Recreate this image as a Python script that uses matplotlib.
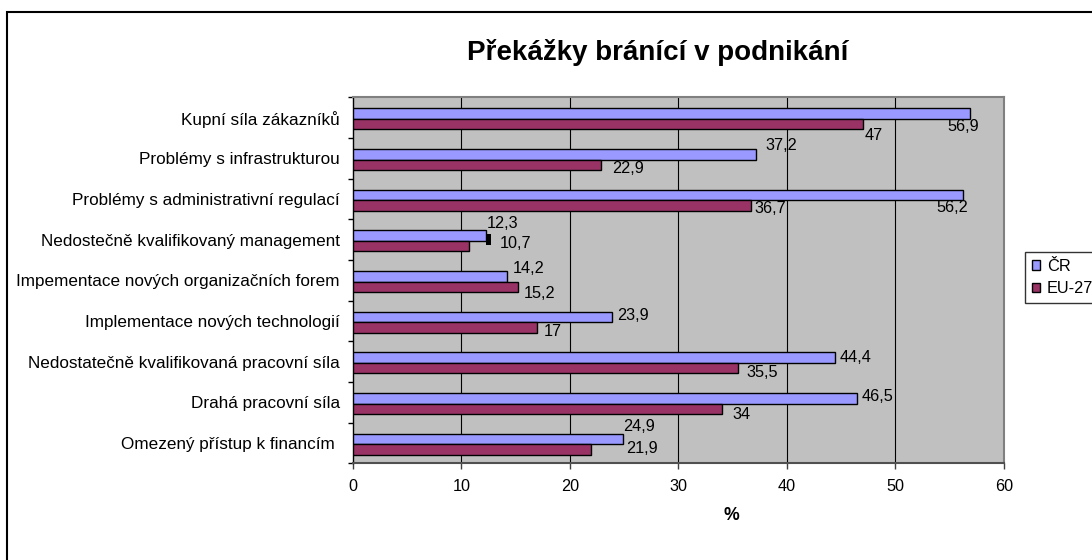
import matplotlib
matplotlib.use("Agg")
import matplotlib.pyplot as plt
from matplotlib.patches import Rectangle

plt.rcParams['font.family'] = ['Liberation Sans', 'DejaVu Sans']

title = "Překážky bránící v podnikání"
categories = [
    "Kupní síla zákazníků",
    "Problémy s infrastrukturou",
    "Problémy s administrativní regulací",
    "Nedostečně kvalifikovaný management",
    "Impementace nových organizačních forem",
    "Implementace nových technologií",
    "Nedostatečně kvalifikovaná pracovní síla",
    "Drahá pracovní síla",
    "Omezený přístup k financím ",
]
cr_values = [56.9, 37.2, 56.2, 12.3, 14.2, 23.9, 44.4, 46.5, 24.9]
eu_values = [47, 22.9, 36.7, 10.7, 15.2, 17, 35.5, 34, 21.9]
series_names = ["ČR", "EU-27"]
x_ticks = [0, 10, 20, 30, 40, 50, 60]
x_label = "%"

# label offsets (pixels, text centre relative to bar end / bar centre)
cr_off = [(-7, -13), (25, 8.5), (-10, -13), (16.5, 12.2), (21.7, 7.4),
          (20.8, 1.2), (20.9, 0.5), (20.5, 1.7), (16.2, 12.5)]
eu_off = [(11, -11), (27, -3.5), (19.5, -2.7), (47, 2.5), (21.4, -6.3),
          (15, -4), (24, -4.6), (19.4, -5.5), (51.4, 0.7)]

W, H = 1092, 560
fig = plt.figure(figsize=(W / 100, H / 100), dpi=100)
ax = fig.add_axes([353 / W, 1 - 463.3 / H, (1003.8 - 353) / W, (463.3 - 97.3) / H])
ax.set_facecolor('#C0C0C0')

cr_color = '#9999FF'
eu_color = '#993366'
h = 0.26
n = len(categories)
ys = list(range(n))
cr_y = [y - h / 2 + 0.03 for y in ys]
eu_y = [y + h / 2 + 0.03 for y in ys]

ax.set_xlim(0, 60)
ax.set_ylim(n - 0.5, -0.5)

for xv in x_ticks[1:-1]:
    ax.axvline(xv, color='black', lw=0.8, zorder=1)

# artifact shadow near management bar
ax.add_patch(Rectangle((cr_values[3], cr_y[3] - h / 2 + 0.08), 0.42, h + 0.01,
                       facecolor='black', edgecolor='none', zorder=2))

b1 = ax.barh(cr_y, cr_values, height=h, color=cr_color, edgecolor='black',
             linewidth=1.0, zorder=3, label=series_names[0])
b2 = ax.barh(eu_y, eu_values, height=h, color=eu_color, edgecolor='black',
             linewidth=1.0, zorder=3, label=series_names[1])

def fmt(v):
    s = ('%g' % v)
    return s.replace('.', ',')

fs = 11.7
fs_cat = 12.3
for i in range(n):
    ax.annotate(fmt(cr_values[i]), (cr_values[i], cr_y[i]), xytext=cr_off[i],
                textcoords='offset pixels', ha='center', va='center',
                fontsize=fs, zorder=5, annotation_clip=False)
    ax.annotate(fmt(eu_values[i]), (eu_values[i], eu_y[i]), xytext=eu_off[i],
                textcoords='offset pixels', ha='center', va='center',
                fontsize=fs, zorder=5, annotation_clip=False)

ax.set_xticks(x_ticks)
ax.set_xticklabels([str(t) for t in x_ticks], fontsize=fs)
ax.tick_params(axis='x', direction='out', length=4.3, width=1, color='#404040', pad=7)

ax.set_yticks([y + 0.5 for y in range(-1, n)])
ax.set_yticklabels([])
ax.tick_params(axis='y', which='major', direction='out', length=3.6, width=1, color='black')
ax.set_yticks(ys, minor=True)
ax.set_yticklabels(categories, minor=True, fontsize=fs_cat)
ax.tick_params(axis='y', which='minor', length=0, pad=9.5)

ax.set_xlabel(x_label, fontsize=fs + 1, fontweight='bold', labelpad=2)
ax.xaxis.set_label_coords((731 - 353) / (1003.8 - 353), -(507 - 463.3) / (463.3 - 97.3))

for s in ['top', 'right']:
    ax.spines[s].set_color('#808080')
    ax.spines[s].set_linewidth(1.5)
ax.spines['left'].set_color('black')
ax.spines['left'].set_linewidth(1.0)
ax.spines['bottom'].set_color('#505050')
ax.spines['bottom'].set_linewidth(1.5)

fig.text(658 / W, 1 - 52 / H, title, ha='center', va='center', fontsize=20,
         fontweight='bold')

leg = fig.legend(handles=[b1, b2], labels=series_names, loc='lower left',
                 bbox_to_anchor=(1025 / W, 1 - 302.7 / H), borderaxespad=0,
                 fontsize=fs, frameon=True, fancybox=False, handlelength=0.55,
                 handleheight=0.55, handletextpad=0.4, borderpad=0.4,
                 labelspacing=0.45)
leg.get_frame().set_edgecolor('black')
leg.get_frame().set_linewidth(1.0)

fig.patches.append(Rectangle((7.3 / W, -0.2), 1.5, 1.2 - 12.3 / H,
                             transform=fig.transFigure, fill=False,
                             edgecolor='black', linewidth=1.5))

fig.savefig('out.png', dpi=100)
